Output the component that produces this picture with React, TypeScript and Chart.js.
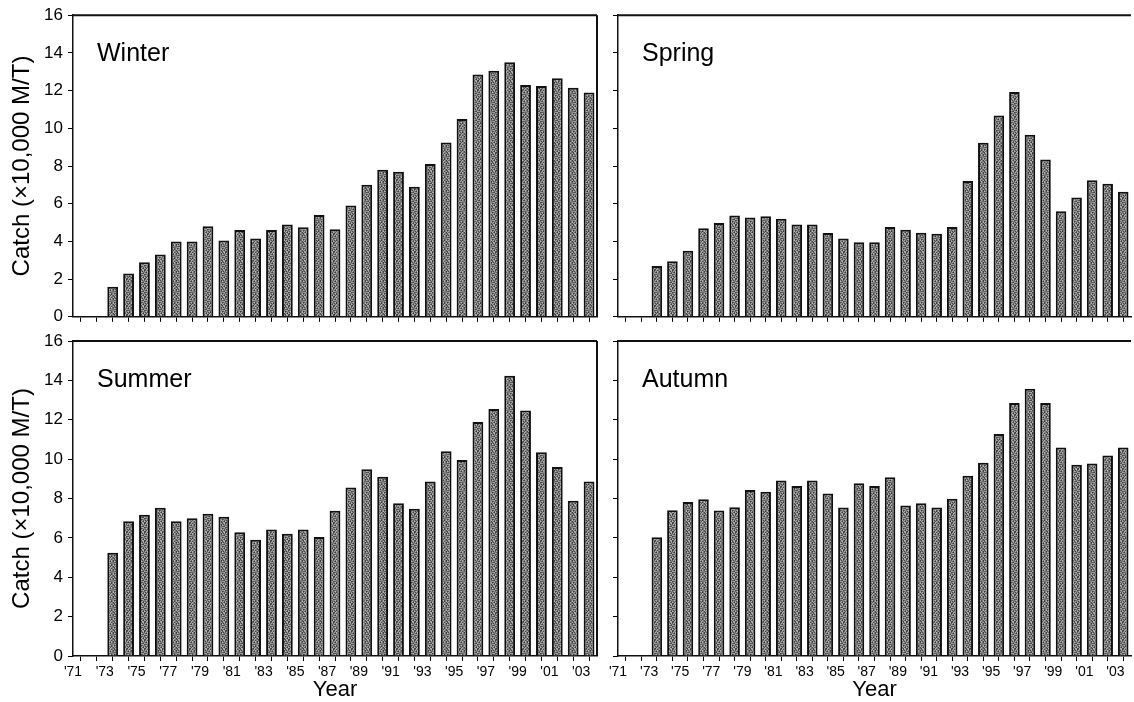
import React, { useEffect, useRef } from "react";
import { Chart, registerables } from "chart.js";

Chart.register(...registerables);

// ---- data ----
const years = [
  1973, 1974, 1975, 1976, 1977, 1978, 1979, 1980, 1981, 1982, 1983,
  1984, 1985, 1986, 1987, 1988, 1989, 1990, 1991, 1992, 1993, 1994,
  1995, 1996, 1997, 1998, 1999, 2000, 2001, 2002, 2003,
];
const winter = [
  1.6, 2.3, 2.9, 3.3, 4.0, 4.0, 4.8, 4.05, 4.6, 4.15, 4.6, 4.9, 4.75, 5.4,
  4.65, 5.9, 7.0, 7.8, 7.7, 6.9, 8.1, 9.25, 10.5, 12.85, 13.05, 13.5, 12.3,
  12.25, 12.65, 12.15, 11.9,
];
const spring = [
  2.7, 2.95, 3.5, 4.7, 4.98, 5.38, 5.27, 5.33, 5.2, 4.9, 4.9, 4.45, 4.15,
  3.96, 3.96, 4.76, 4.62, 4.46, 4.4, 4.76, 7.2, 9.23, 10.68, 11.93, 9.66,
  8.34, 5.6, 6.33, 7.25, 7.06, 6.64,
];
const summer = [
  5.25, 6.85, 7.17, 7.53, 6.85, 7.0, 7.22, 7.07, 6.28, 5.9, 6.43, 6.21, 6.43,
  6.04, 7.38, 8.56, 9.49, 9.1, 7.76, 7.48, 8.86, 10.4, 9.96, 11.88, 12.54,
  14.24, 12.47, 10.35, 9.6, 7.88, 8.86,
];
const autumn = [
  6.03, 7.4, 7.82, 7.96, 7.39, 7.55, 8.43, 8.34, 8.91, 8.63, 8.91, 8.26, 7.54,
  8.78, 8.63, 9.08, 7.64, 7.76, 7.54, 7.99, 9.15, 9.82, 11.27, 12.85, 13.57,
  12.85, 10.59, 9.72, 9.78, 10.18, 10.59,
];
const seasonNames = ["Winter", "Spring", "Summer", "Autumn"];
const xTickYears = [
  1971, 1973, 1975, 1977, 1979, 1981, 1983, 1985, 1987, 1989, 1991, 1993,
  1995, 1997, 1999, 2001, 2003,
];
const xTickLabels = [
  "'71", "'73", "'75", "'77", "'79", "'81", "'83", "'85", "'87", "'89",
  "'91", "'93", "'95", "'97", "'99", "'01", "'03",
];
const yTicks = [0, 2, 4, 6, 8, 10, 12, 14, 16];
const yTitle = "Catch (\u00d710,000 M/T)";
const xTitle = "Year";

const FONT = "'Liberation Sans', Arial, Helvetica, sans-serif";

function makePattern(): CanvasPattern | string {
  const c = document.createElement("canvas");
  c.width = 9;
  c.height = 9;
  const g = c.getContext("2d");
  if (!g) return "#777";
  for (let i = 0; i < 9; i++) {
    for (let j = 0; j < 9; j++) {
      const h = ((i * 37 + j * 91 + i * j * 13) % 11) / 10;
      const v = Math.round(55 + h * 130);
      g.fillStyle = `rgb(${v},${v},${v})`;
      g.fillRect(i, j, 1, 1);
    }
  }
  return g.createPattern(c, "repeat") || "#777";
}

type PanelProps = {
  values: number[];
  label: string;
  left: number;
  top: number;
  width: number;
  height: number;
  yAxisWidth: number;
  xAxisHeight: number;
  padTop: number;
  padRight: number;
  showYLabels: boolean;
  showXLabels: boolean;
  rightBorder: boolean;
};

function Panel(p: PanelProps) {
  const ref = useRef<HTMLCanvasElement | null>(null);
  useEffect(() => {
    if (!ref.current) return;
    const pattern = makePattern();
    const frame = {
      id: "frame" + p.label,
      afterDraw(chart: any) {
        const { ctx, chartArea: a } = chart;
        ctx.save();
        ctx.strokeStyle = "#111";
        ctx.lineWidth = 2;
        ctx.beginPath();
        ctx.moveTo(a.left, a.top);
        ctx.lineTo(a.right, a.top);
        if (p.rightBorder) {
          ctx.moveTo(a.right, a.top);
          ctx.lineTo(a.right, a.bottom);
        }
        ctx.stroke();
        ctx.fillStyle = "#000";
        ctx.font = `25px ${FONT}`;
        ctx.textBaseline = "alphabetic";
        ctx.textAlign = "left";
        ctx.fillText(p.label, a.left + 24, a.top + 46);
        ctx.restore();
      },
    };
    const chart = new Chart(ref.current, {
      type: "bar",
      data: {
        datasets: [
          {
            data: years.map((y, i) => ({ x: y + 0.5, y: p.values[i] })),
            backgroundColor: pattern as any,
            borderColor: "#111",
            borderWidth: 2,
            barPercentage: 0.68,
            categoryPercentage: 1,
          } as any,
        ],
      },
      options: {
        responsive: false,
        maintainAspectRatio: false,
        animation: false,
        layout: {
          padding: { top: p.padTop, right: p.padRight, left: 0, bottom: 0 },
        },
        plugins: {
          legend: { display: false },
          tooltip: { enabled: false },
        },
        scales: {
          x: {
            type: "linear",
            min: 1971,
            max: 2004,
            offset: false,
            grid: {
              display: true,
              drawOnChartArea: false,
              drawTicks: true,
              tickLength: 5,
              color: "#000",
              lineWidth: 1,
            },
            border: { display: true, color: "#111", width: 1.5 },
            ticks: {
              stepSize: 1,
              autoSkip: false,
              maxRotation: 0,
              minRotation: 0,
              padding: 3,
              color: "#000",
              font: { family: FONT, size: 14 },
              callback: (v: any) => {
                if (!p.showXLabels) return "";
                const idx = xTickYears.indexOf(Number(v));
                return idx >= 0 ? xTickLabels[idx] : "";
              },
            },
            title: {
              display: p.showXLabels,
              text: xTitle,
              color: "#000",
              font: { family: FONT, size: 22, lineHeight: 1 },
              padding: { top: 0, bottom: 1 },
            },
            afterFit: (s: any) => {
              s.height = p.xAxisHeight;
            },
          },
          y: {
            min: yTicks[0],
            max: yTicks[yTicks.length - 1],
            grid: {
              display: true,
              drawOnChartArea: false,
              drawTicks: true,
              tickLength: 5,
              color: "#000",
              lineWidth: 1,
            },
            border: { display: true, color: "#111", width: 1.5 },
            ticks: {
              stepSize: 2,
              padding: 5,
              color: "#000",
              font: { family: FONT, size: 17 },
              callback: (v: any) =>
                p.showYLabels && yTicks.includes(Number(v)) ? String(v) : "",
            },
            title: {
              display: p.showYLabels,
              text: yTitle,
              color: "#000",
              font: { family: FONT, size: 24, lineHeight: 1 },
              padding: { top: 10, bottom: 0 },
            },
            afterFit: (s: any) => {
              s.width = p.yAxisWidth;
            },
          },
        },
      },
      plugins: [frame],
    });
    return () => chart.destroy();
  }, []);
  return (
    <canvas
      ref={ref}
      width={p.width}
      height={p.height}
      style={{
        position: "absolute",
        left: p.left,
        top: p.top,
        width: p.width,
        height: p.height,
      }}
    />
  );
}

export default function App() {
  const seriesList = [winter, spring, summer, autumn];
  return (
    <div
      style={{
        position: "fixed",
        left: 0,
        top: 0,
        width: 1134,
        height: 702,
        background: "#fff",
        overflow: "hidden",
      }}
    >
      <Panel
        values={seriesList[0]}
        label={seasonNames[0]}
        left={0}
        top={0}
        width={600}
        height={332}
        yAxisWidth={73}
        xAxisHeight={8}
        padTop={13}
        padRight={3}
        showYLabels={true}
        showXLabels={false}
        rightBorder={true}
      />
      <Panel
        values={seriesList[1]}
        label={seasonNames[1]}
        left={600}
        top={0}
        width={534}
        height={332}
        yAxisWidth={18}
        xAxisHeight={8}
        padTop={13}
        padRight={1}
        showYLabels={false}
        showXLabels={false}
        rightBorder={false}
      />
      <Panel
        values={seriesList[2]}
        label={seasonNames[2]}
        left={0}
        top={325}
        width={600}
        height={377}
        yAxisWidth={73}
        xAxisHeight={46}
        padTop={16}
        padRight={3}
        showYLabels={true}
        showXLabels={true}
        rightBorder={true}
      />
      <Panel
        values={seriesList[3]}
        label={seasonNames[3]}
        left={600}
        top={325}
        width={534}
        height={377}
        yAxisWidth={18}
        xAxisHeight={46}
        padTop={16}
        padRight={1}
        showYLabels={false}
        showXLabels={true}
        rightBorder={false}
      />
    </div>
  );
}
